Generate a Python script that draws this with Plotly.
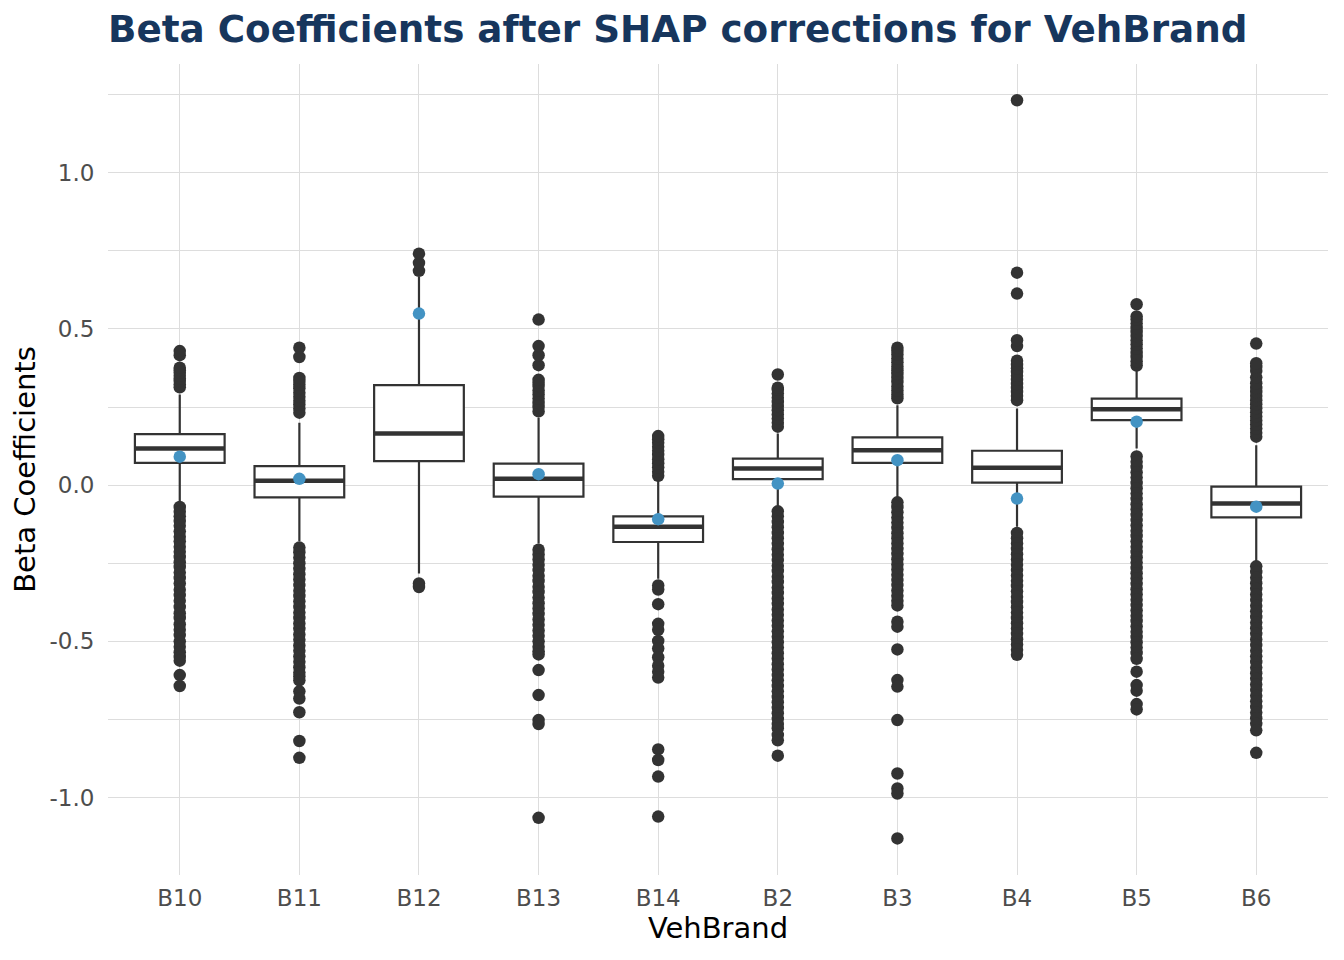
import plotly.graph_objects as go

categories = ["B10", "B11", "B12", "B13", "B14", "B2", "B3", "B4", "B5", "B6"]

q1 = [0.071, -0.039, 0.077, -0.037, -0.182, 0.019, 0.071, 0.008, 0.208, -0.103]
median = [0.117, 0.014, 0.165, 0.020, -0.133, 0.053, 0.112, 0.056, 0.243, -0.059]
q3 = [0.163, 0.061, 0.320, 0.069, -0.100, 0.085, 0.153, 0.110, 0.277, -0.005]
lower_whisker = [-0.060, -0.180, -0.283, -0.187, -0.300, -0.068, -0.040, -0.133, 0.117, -0.245]
upper_whisker = [0.290, 0.200, 0.667, 0.215, 0.016, 0.165, 0.256, 0.245, 0.368, 0.128]

# SHAP-corrected point estimate per brand (blue dots)
shap_beta = [0.091, 0.020, 0.549, 0.035, -0.109, 0.005, 0.080, -0.043, 0.203, -0.069]

outliers = {
    "B10": [0.313, 0.322, 0.333, 0.341, 0.350, 0.360, 0.368, 0.376, 0.416, 0.429,
            -0.070, -0.085, -0.100, -0.115, -0.130, -0.148, -0.165, -0.180, -0.197, -0.213,
            -0.230, -0.247, -0.262, -0.280, -0.297, -0.315, -0.335, -0.352, -0.370, -0.390,
            -0.410, -0.425, -0.445, -0.463, -0.480, -0.500, -0.517, -0.535, -0.550, -0.562,
            -0.608, -0.643],
    "B11": [0.232, 0.245, 0.258, 0.270, 0.283, 0.296, 0.310, 0.322, 0.333, 0.343, 0.410, 0.440,
            -0.200, -0.215, -0.232, -0.250, -0.268, -0.285, -0.302, -0.320, -0.338, -0.355,
            -0.372, -0.390, -0.408, -0.425, -0.443, -0.460, -0.478, -0.495, -0.513, -0.530,
            -0.548, -0.565, -0.583, -0.600, -0.612, -0.625, -0.660, -0.683, -0.727, -0.819,
            -0.873],
    "B12": [0.686, 0.711, 0.741, -0.315, -0.326],
    "B13": [0.236, 0.250, 0.263, 0.277, 0.290, 0.303, 0.317, 0.328, 0.337, 0.384, 0.416,
            0.445, 0.530,
            -0.207, -0.222, -0.238, -0.255, -0.272, -0.290, -0.307, -0.325, -0.342, -0.360,
            -0.378, -0.395, -0.412, -0.430, -0.447, -0.465, -0.482, -0.500, -0.517, -0.532,
            -0.542, -0.592, -0.672, -0.752, -0.765, -1.065],
    "B14": [0.030, 0.043, 0.057, 0.070, 0.083, 0.097, 0.110, 0.123, 0.136, 0.147, 0.157,
            -0.321, -0.334, -0.381, -0.444, -0.463, -0.499, -0.523, -0.551, -0.578, -0.597,
            -0.616, -0.846, -0.880, -0.933, -1.061],
    "B2": [0.187, 0.200, 0.213, 0.226, 0.240, 0.253, 0.266, 0.280, 0.293, 0.305, 0.312, 0.354,
           -0.084, -0.100, -0.118, -0.135, -0.153, -0.170, -0.188, -0.205, -0.223, -0.240,
           -0.258, -0.275, -0.293, -0.310, -0.328, -0.345, -0.363, -0.380, -0.398, -0.415,
           -0.433, -0.450, -0.468, -0.485, -0.503, -0.520, -0.538, -0.555, -0.573, -0.590,
           -0.608, -0.625, -0.643, -0.660, -0.678, -0.695, -0.713, -0.730, -0.748, -0.765,
           -0.778, -0.800, -0.817, -0.866],
    "B3": [0.278, 0.290, 0.303, 0.316, 0.330, 0.343, 0.356, 0.368, 0.380, 0.393, 0.405,
           0.418, 0.430, 0.440,
           -0.055, -0.070, -0.087, -0.104, -0.120, -0.137, -0.154, -0.170, -0.187, -0.204,
           -0.220, -0.237, -0.254, -0.270, -0.287, -0.304, -0.320, -0.337, -0.354, -0.370,
           -0.385, -0.437, -0.453, -0.526, -0.624, -0.645, -0.752, -0.923, -0.971, -0.987,
           -1.131],
    "B4": [0.272, 0.285, 0.298, 0.311, 0.324, 0.337, 0.350, 0.362, 0.374, 0.385, 0.398,
           0.445, 0.464, 0.613, 0.680, 1.232,
           -0.153, -0.170, -0.187, -0.204, -0.221, -0.238, -0.255, -0.272, -0.289, -0.306,
           -0.323, -0.340, -0.357, -0.374, -0.391, -0.408, -0.425, -0.442, -0.459, -0.476,
           -0.493, -0.510, -0.527, -0.543],
    "B5": [0.383, 0.396, 0.410, 0.423, 0.437, 0.450, 0.463, 0.477, 0.490, 0.503, 0.517,
           0.530, 0.540, 0.579,
           0.092, 0.075, 0.058, 0.041, 0.024, 0.007, -0.010, -0.027, -0.044, -0.061,
           -0.078, -0.095, -0.112, -0.129, -0.146, -0.163, -0.180, -0.197, -0.214, -0.231,
           -0.248, -0.265, -0.282, -0.299, -0.316, -0.333, -0.350, -0.367, -0.384, -0.401,
           -0.418, -0.435, -0.452, -0.469, -0.486, -0.503, -0.520, -0.537, -0.556, -0.597,
           -0.640, -0.658, -0.701, -0.718],
    "B6": [0.155, 0.168, 0.181, 0.194, 0.207, 0.220, 0.233, 0.246, 0.259, 0.272, 0.285,
           0.298, 0.311, 0.326, 0.345, 0.365, 0.378, 0.390, 0.453,
           -0.260, -0.278, -0.296, -0.314, -0.332, -0.350, -0.368, -0.386, -0.404, -0.422,
           -0.440, -0.458, -0.476, -0.494, -0.512, -0.530, -0.548, -0.566, -0.584, -0.602,
           -0.620, -0.638, -0.656, -0.674, -0.692, -0.710, -0.728, -0.746, -0.764, -0.785,
           -0.857],
}

y_tick_vals = [-1.0, -0.5, 0.0, 0.5, 1.0]
y_tick_text = ["-1.0", "-0.5", "0.0", "0.5", "1.0"]

DARK = "#333333"
BLUE = "#4393c3"
GRID = "#dddddd"
BOX_WIDTH = 0.75

# page has an 8px body margin: figure occupies 8..1336 x 8..952
W, H = 1328, 944

idx = list(range(len(categories)))

fig = go.Figure()

fig.add_trace(go.Box(
    x=idx, q1=q1, median=median, q3=q3,
    lowerfence=lower_whisker, upperfence=upper_whisker,
    width=BOX_WIDTH, whiskerwidth=0,
    fillcolor="white", line=dict(color=DARK, width=2.2),
    boxpoints=False, showlegend=False, hoverinfo="skip",
))

# thicker median bars (ggplot style)
mx, my = [], []
for i, m in zip(idx, median):
    mx += [i - BOX_WIDTH / 2, i + BOX_WIDTH / 2, None]
    my += [m, m, None]
fig.add_trace(go.Scatter(x=mx, y=my, mode="lines",
                         line=dict(color=DARK, width=4.5),
                         showlegend=False, hoverinfo="skip"))

ox, oy = [], []
for i, c in enumerate(categories):
    for v in outliers[c]:
        ox.append(i)
        oy.append(v)
fig.add_trace(go.Scatter(x=ox, y=oy, mode="markers",
                         marker=dict(color=DARK, size=12.5, line=dict(width=0)),
                         showlegend=False, hoverinfo="skip"))

fig.add_trace(go.Scatter(x=idx, y=shap_beta, mode="markers",
                         marker=dict(color=BLUE, size=12.5, line=dict(width=0)),
                         showlegend=False))

fig.update_layout(
    width=W, height=H,
    paper_bgcolor="white", plot_bgcolor="white",
    margin=dict(l=100, r=8, t=56, b=77),
    font=dict(family="DejaVu Sans", color="black"),
    title=dict(text="<b>Beta Coefficients after SHAP corrections for VehBrand</b>",
               x=100 / W, xanchor="left", xref="container",
               y=1 - 21 / H, yanchor="middle", yref="container",
               font=dict(size=37.3, color="#17365d", family="DejaVu Sans")),
    xaxis=dict(
        range=[-0.6, len(categories) - 0.4],
        tickmode="array", tickvals=idx, ticktext=categories,
        showgrid=True, gridcolor=GRID, gridwidth=1.2, zeroline=False,
        showline=False, ticks="outside", ticklen=2, tickcolor="rgba(0,0,0,0)",
        tickfont=dict(size=23, color="#4d4d4d"),
        title=dict(text="VehBrand", font=dict(size=29, color="black"), standoff=6),
    ),
    yaxis=dict(
        range=[-1.248, 1.348],
        tickmode="array", tickvals=y_tick_vals, ticktext=y_tick_text,
        showgrid=True, gridcolor=GRID, gridwidth=1.2, zeroline=False,
        showline=False, ticks="outside", ticklen=8, tickcolor="rgba(0,0,0,0)",
        tickfont=dict(size=23, color="#4d4d4d"),
        minor=dict(tick0=0.25, dtick=0.5, showgrid=True, gridcolor=GRID, gridwidth=1.2, ticks=""),
        title=dict(text="Beta Coefficients", font=dict(size=29, color="black"), standoff=7),
    ),
)

fig.write_html("out.html")
